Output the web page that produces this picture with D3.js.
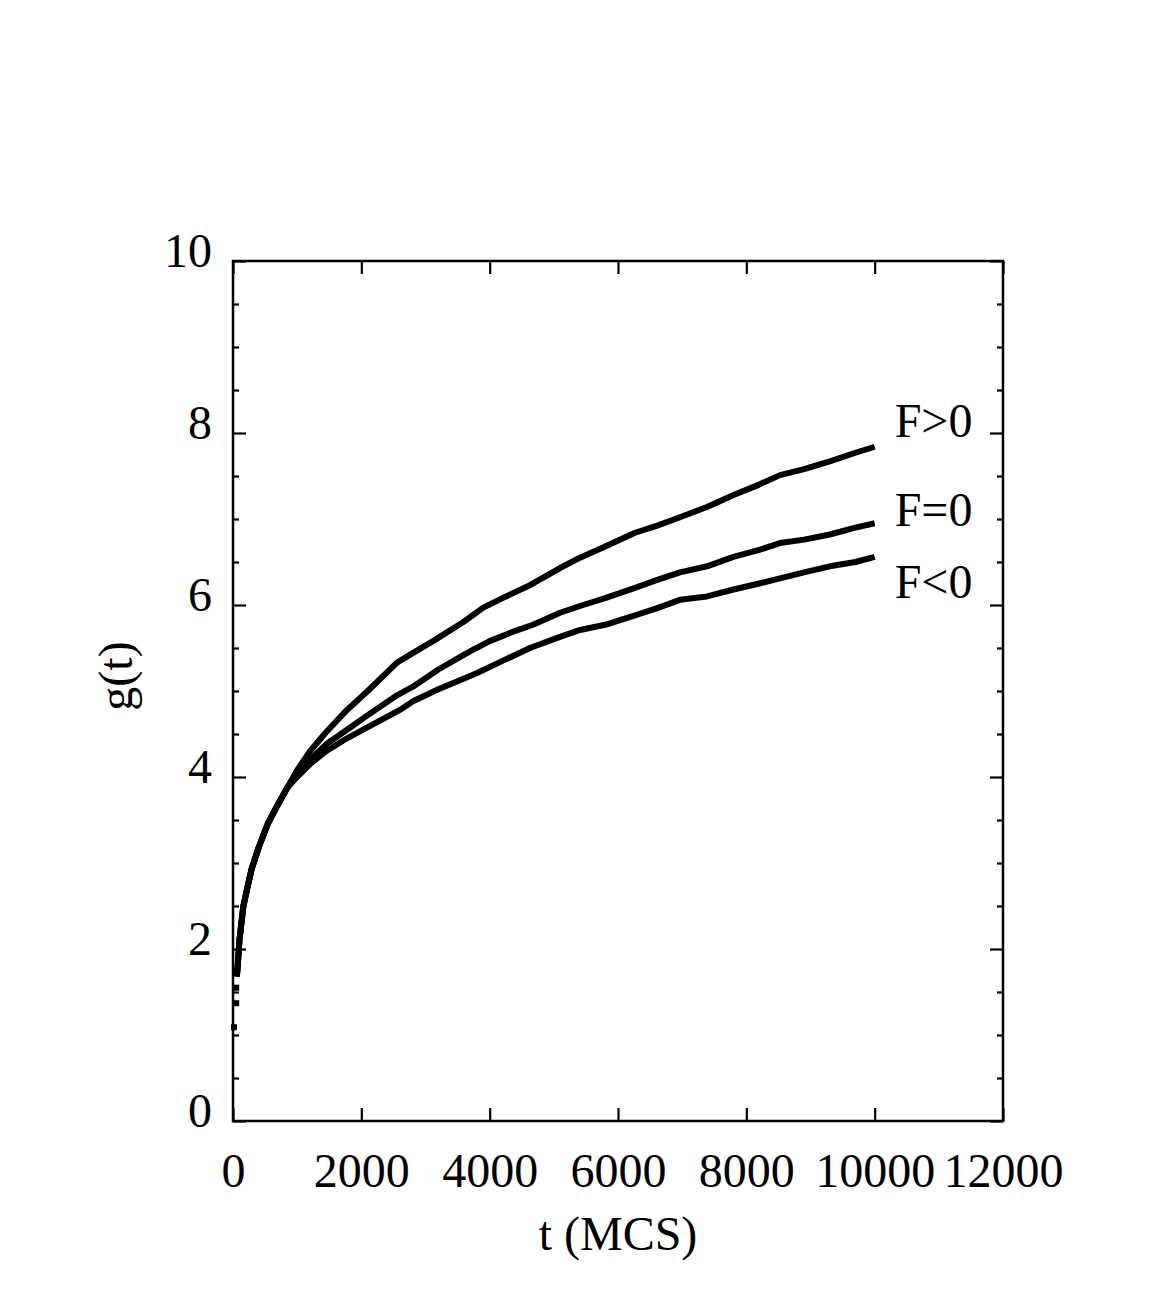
<!DOCTYPE html>
<html>
<head>
<meta charset="utf-8">
<script src="https://cdn.jsdelivr.net/npm/d3@7"></script>
<style>
  body { margin: 0; background: #fff; }
  svg text { font-family: 'Liberation Serif', 'Times New Roman', serif; fill: #000; }
</style>
</head>
<body>
<div id="chart"></div>
<script>
// values
const xTicks = [0, 2000, 4000, 6000, 8000, 10000, 12000];
const yTicks = [0, 2, 4, 6, 8, 10];
const yMinor = [0.5, 1, 1.5, 2.5, 3, 3.5, 4.5, 5, 5.5, 6.5, 7, 7.5, 8.5, 9, 9.5];

// first few isolated samples (drawn as dots)
const startDots = [[15, 1.09], [50, 1.37], [50, 1.55]];

// common early part, all three curves overlap here
const headPart = [
  [60, 1.68], [75, 1.82], [100, 2.1], [160, 2.49], [220, 2.7], [290, 2.93],
  [400, 3.18], [545, 3.46], [700, 3.68], [850, 3.88]
];

const fPos = [
  [1000, 4.08], [1200, 4.3], [1450, 4.52], [1777, 4.78], [2100, 5.0],
  [2556, 5.33], [2800, 5.44], [3117, 5.58], [3585, 5.8], [3900, 5.97],
  [4200, 6.08], [4600, 6.22], [5096, 6.43], [5408, 6.55], [5800, 6.68],
  [6265, 6.84], [6600, 6.92], [6966, 7.02], [7387, 7.14], [7800, 7.28],
  [8200, 7.4], [8524, 7.51], [8900, 7.58], [9300, 7.67], [9700, 7.77],
  [10000, 7.84]
];

const fZero = [
  [1000, 4.03], [1200, 4.2], [1450, 4.38], [1777, 4.55], [2100, 4.72],
  [2556, 4.95], [2805, 5.05], [3200, 5.25], [3693, 5.46], [4000, 5.58],
  [4400, 5.7], [4675, 5.77], [5096, 5.91], [5455, 6.0], [5800, 6.08],
  [6265, 6.2], [6600, 6.29], [6966, 6.38], [7387, 6.45], [7800, 6.56],
  [8200, 6.64], [8524, 6.72], [8900, 6.76], [9300, 6.82], [9700, 6.9],
  [10000, 6.95]
];

const fNeg = [
  [1000, 4.0], [1200, 4.15], [1450, 4.3], [1777, 4.45], [2100, 4.58],
  [2602, 4.78], [2805, 4.88], [3200, 5.02], [3647, 5.16], [3803, 5.21],
  [4200, 5.35], [4628, 5.5], [5096, 5.63], [5408, 5.71], [5800, 5.77],
  [6265, 5.88], [6600, 5.96], [6966, 6.06], [7387, 6.1], [7800, 6.18],
  [8200, 6.25], [8524, 6.31], [8900, 6.38], [9300, 6.45], [9700, 6.5],
  [10000, 6.56]
];

const seriesNames = ['F>0', 'F=0', 'F<0'];
const labelG = [7.95, 6.92, 6.08]; // label baselines in g units

const W = 1158, H = 1294;
const margin = { top: 261, right: 155, bottom: 173, left: 233 };
const width = W - margin.left - margin.right;
const height = H - margin.top - margin.bottom;

const svg = d3.select('#chart').append('svg')
  .attr('width', W)
  .attr('height', H);

const plot = svg.append('g')
  .attr('transform', `translate(${margin.left},${margin.top})`);

const x = d3.scaleLinear().domain([0, 12000]).range([0, width]);
const y = d3.scaleLinear().domain([0, 10]).range([height, 0]);

const fontSize = 48;

// axes: ticks point inward
const xBottom = plot.append('g')
  .attr('transform', `translate(0,${height})`)
  .call(d3.axisBottom(x).tickValues(xTicks).tickSize(-13).tickPadding(32)
    .tickFormat(d3.format('d')));

const xTop = plot.append('g')
  .call(d3.axisTop(x).tickValues(xTicks).tickSize(-13).tickFormat(''));

const yLeft = plot.append('g')
  .call(d3.axisLeft(y).tickValues(yTicks).tickSize(-13).tickPadding(21));

const yLeftMinor = plot.append('g')
  .call(d3.axisLeft(y).tickValues(yMinor).tickSize(-6).tickFormat(''));

const yRight = plot.append('g')
  .attr('transform', `translate(${width},0)`)
  .call(d3.axisRight(y).tickValues(yTicks).tickSize(-13).tickFormat(''));

const yRightMinor = plot.append('g')
  .attr('transform', `translate(${width},0)`)
  .call(d3.axisRight(y).tickValues(yMinor).tickSize(-6).tickFormat(''));

[xBottom, xTop, yLeft, yLeftMinor, yRight, yRightMinor].forEach((g) => {
  g.select('.domain').remove();
  g.selectAll('.tick line').attr('stroke', '#000').attr('stroke-width', 2.2);
  g.selectAll('.tick text')
    .attr('font-size', fontSize)
    .attr('font-family', "'Liberation Serif', 'Times New Roman', serif")
    .attr('fill', '#000');
});

yLeft.selectAll('.tick text').attr('dy', '0.12em');

// frame
plot.append('rect')
  .attr('x', 0)
  .attr('y', 0)
  .attr('width', width)
  .attr('height', height)
  .attr('fill', 'none')
  .attr('stroke', '#000')
  .attr('stroke-width', 2.5);

// curves
const line = d3.line()
  .x((d) => x(d[0]))
  .y((d) => y(d[1]));

const allSeries = [fPos, fZero, fNeg].map((s) => headPart.concat(s));

plot.selectAll('path.curve')
  .data(allSeries)
  .enter()
  .append('path')
  .attr('class', 'curve')
  .attr('d', line)
  .attr('fill', 'none')
  .attr('stroke', '#000')
  .attr('stroke-width', 6)
  .attr('stroke-linejoin', 'round');

plot.selectAll('rect.dot')
  .data(startDots)
  .enter()
  .append('rect')
  .attr('class', 'dot')
  .attr('x', (d) => x(d[0]) - 3)
  .attr('y', (d) => y(d[1]) - 3)
  .attr('width', 6)
  .attr('height', 6)
  .attr('fill', '#000');

// curve labels
plot.selectAll('text.curve-lbl')
  .data(seriesNames)
  .enter()
  .append('text')
  .attr('class', 'curve-lbl')
  .attr('x', x(10000) + 20)
  .attr('y', (d, i) => y(labelG[i]))
  .attr('font-size', fontSize)
  .text((d) => d);

// axis titles
svg.append('text')
  .attr('x', margin.left + width / 2)
  .attr('y', 1250)
  .attr('text-anchor', 'middle')
  .attr('font-size', fontSize)
  .text('t (MCS)');

svg.append('text')
  .attr('transform', 'translate(132,676) rotate(-90)')
  .attr('text-anchor', 'middle')
  .attr('font-size', fontSize)
  .text('g(t)');
</script>
</body>
</html>
